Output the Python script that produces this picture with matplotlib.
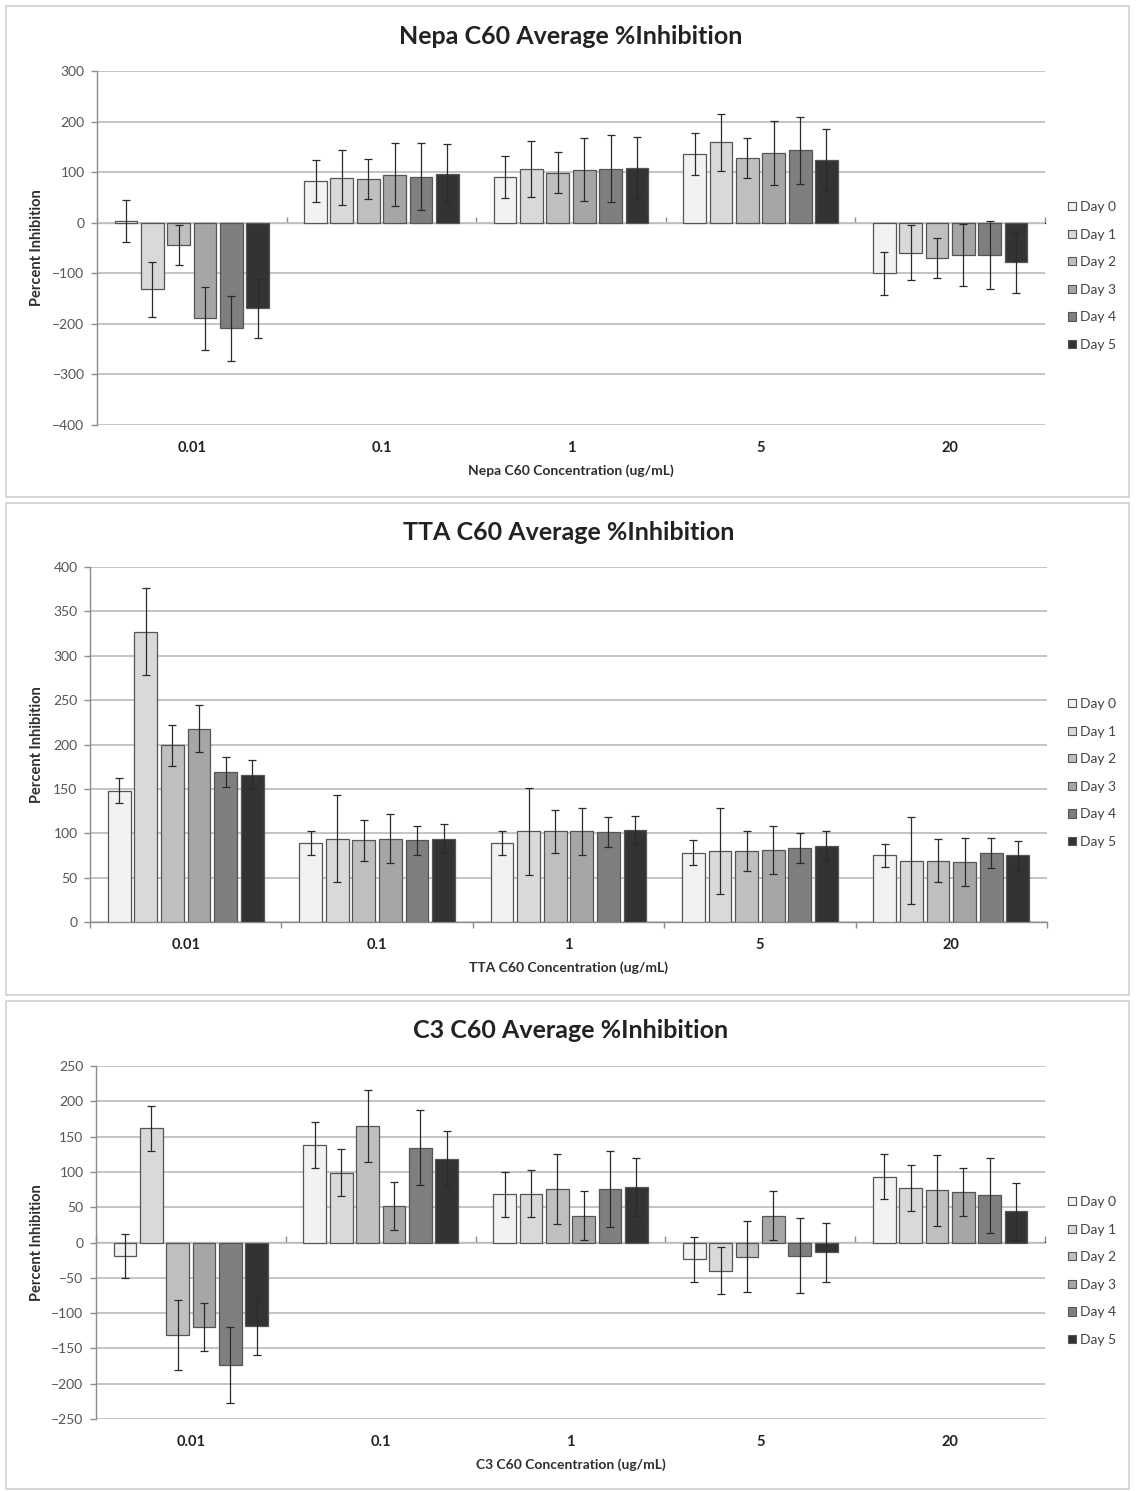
import matplotlib
matplotlib.use("Agg")
import matplotlib.pyplot as plt
from matplotlib.patches import Rectangle, Patch
import numpy as np

plt.rcParams['font.family'] = ['Lato', 'DejaVu Sans']

concentrations = ["0.01", "0.1", "1", "5", "20"]
days = ["Day 0", "Day 1", "Day 2", "Day 3", "Day 4", "Day 5"]
day_colors = ["#f2f2f2", "#d9d9d9", "#bfbfbf", "#a6a6a6", "#7f7f7f", "#333333"]

# Nepa C60 (one list per day, values across concentrations)
nepa_day0 = [3, 82, 90, 136, -100]
nepa_day1 = [-132, 89, 106, 159, -59]
nepa_day2 = [-44, 86, 99, 128, -70]
nepa_day3 = [-189, 95, 105, 138, -64]
nepa_day4 = [-209, 91, 107, 143, -64]
nepa_day5 = [-169, 97, 109, 125, -78]
nepa_err0 = [42, 42, 42, 42, 43]
nepa_err1 = [54, 54, 55, 56, 55]
nepa_err2 = [40, 40, 40, 40, 40]
nepa_err3 = [62, 62, 63, 63, 62]
nepa_err4 = [65, 66, 66, 66, 67]
nepa_err5 = [58, 59, 61, 60, 60]

# TTA C60
tta_day0 = [148, 89, 89, 78, 75]
tta_day1 = [327, 94, 102, 80, 69]
tta_day2 = [199, 92, 102, 80, 69]
tta_day3 = [218, 94, 102, 81, 68]
tta_day4 = [169, 92, 101, 83, 78]
tta_day5 = [166, 94, 104, 86, 75]
tta_err0 = [14, 13, 13, 14, 13]
tta_err1 = [49, 49, 49, 48, 49]
tta_err2 = [23, 23, 24, 23, 24]
tta_err3 = [27, 28, 27, 27, 27]
tta_err4 = [17, 16, 17, 17, 17]
tta_err5 = [16, 16, 16, 16, 16]

# C3 C60
c3_day0 = [-19, 138, 68, -24, 93]
c3_day1 = [162, 99, 69, -40, 77]
c3_day2 = [-131, 165, 76, -20, 74]
c3_day3 = [-120, 51, 38, 38, 72]
c3_day4 = [-173, 134, 76, -19, 67]
c3_day5 = [-118, 118, 78, -14, 44]
c3_err0 = [31, 32, 32, 32, 32]
c3_err1 = [32, 33, 33, 33, 33]
c3_err2 = [50, 51, 50, 50, 50]
c3_err3 = [34, 34, 35, 35, 34]
c3_err4 = [54, 53, 54, 53, 53]
c3_err5 = [41, 40, 41, 42, 40]

W, H = 1136, 1491
fig = plt.figure(figsize=(W / 100, H / 100), dpi=100)
fig.patch.set_facecolor("white")

def fx(px):
    return px / W

def fy(py):
    return 1 - py / H

panels = [
    dict(name="Nepa", means=[nepa_day0, nepa_day1, nepa_day2, nepa_day3, nepa_day4, nepa_day5],
         errs=[nepa_err0, nepa_err1, nepa_err2, nepa_err3, nepa_err4, nepa_err5],
         ylim=(-400, 300), step=100, frame=(6, 497), plot=(97, 1045, 71, 425),
         title_y=36, xlabel_y=471, legend_y=276),
    dict(name="TTA", means=[tta_day0, tta_day1, tta_day2, tta_day3, tta_day4, tta_day5],
         errs=[tta_err0, tta_err1, tta_err2, tta_err3, tta_err4, tta_err5],
         ylim=(0, 400), step=50, frame=(503, 995), plot=(90, 1047, 567, 922),
         title_y=533, xlabel_y=968, legend_y=773),
    dict(name="C3", means=[c3_day0, c3_day1, c3_day2, c3_day3, c3_day4, c3_day5],
         errs=[c3_err0, c3_err1, c3_err2, c3_err3, c3_err4, c3_err5],
         ylim=(-250, 250), step=50, frame=(1001, 1489), plot=(96, 1045, 1066, 1419),
         title_y=1031, xlabel_y=1465, legend_y=1271),
]

x = np.arange(len(concentrations))
slot = 0.139
bw = 0.12
grid_c = "#c4c4c4"
axis_c = "#8c8c8c"

for p in panels:
    ft, fb = p["frame"]
    fig.add_artist(Rectangle((fx(6), fy(fb)), fx(1129) - fx(6), fy(ft) - fy(fb),
                             transform=fig.transFigure, fill=False,
                             edgecolor="#d0d0d0", linewidth=1.2))
    l, r, t, b = p["plot"]
    ax = fig.add_axes([fx(l), fy(b), fx(r) - fx(l), fy(t) - fy(b)])
    ax.set_facecolor("none")
    for i, (m, e) in enumerate(zip(p["means"], p["errs"])):
        xs = x + (i - 2.5) * slot
        ax.bar(xs, m, width=bw, color=day_colors[i], edgecolor="#555555",
               linewidth=0.9, label=days[i], zorder=3)
        ax.errorbar(xs, m, yerr=e, fmt="none", ecolor="#2a2a2a", elinewidth=0.9,
                    capsize=2.6, capthick=0.9, zorder=4)
    ymin, ymax = p["ylim"]
    ax.set_ylim(ymin, ymax)
    ax.set_xlim(-0.5, len(concentrations) - 0.5)
    ax.set_yticks(np.arange(ymin, ymax + 1, p["step"]))
    ax.yaxis.grid(True, color=grid_c, linewidth=1.4, zorder=0)
    ax.set_axisbelow(True)
    for s in ["top", "right", "bottom"]:
        ax.spines[s].set_visible(False)
    ax.spines["left"].set_color(axis_c)
    ax.spines["left"].set_linewidth(1.0)
    ax.tick_params(axis="y", length=4, width=1, color=axis_c, pad=5,
                   labelsize=10, labelcolor="#555555")
    ax.set_xticks(x, concentrations)
    ax.tick_params(axis="x", length=0, pad=11.5, labelsize=10.5, labelcolor="#222222")
    for lab in ax.get_xticklabels():
        lab.set_fontweight("bold")
    zero_frac = (0 - ymin) / (ymax - ymin)
    sec = ax.secondary_xaxis(zero_frac)
    sec.set_xticks(np.arange(-0.5, len(concentrations), 1.0))
    sec.set_xticklabels([])
    sec.tick_params(axis="x", direction="out", length=4, width=1, color=axis_c)
    sec.spines["bottom"].set_color(axis_c)
    sec.spines["bottom"].set_linewidth(1.0)
    cx = fx((l + r) / 2)
    fig.text(cx, fy(p["title_y"]), f"{p['name']} C60 Average %Inhibition",
             ha="center", va="center", fontsize=18, fontweight="bold", color="#222222")
    fig.text(cx, fy(p["xlabel_y"]), f"{p['name']} C60 Concentration (ug/mL)",
             ha="center", va="center", fontsize=10, fontweight="bold", color="#2e2e2e")
    fig.text(fx(37), fy((t + b) / 2), "Percent Inhibition", rotation=90,
             ha="center", va="center", fontsize=10.5, fontweight="bold", color="#2e2e2e")
    handles = [Patch(facecolor=c, edgecolor="#555555", linewidth=0.8) for c in day_colors]
    ax.legend(handles, days, loc="center left", bbox_to_anchor=(fx(1068), fy(p["legend_y"])),
              bbox_transform=fig.transFigure, frameon=False, fontsize=10,
              handlelength=0.55, handleheight=0.55, handletextpad=0.3,
              labelspacing=1.12, borderpad=0, borderaxespad=0, labelcolor="#444444")

fig.savefig("out.png", dpi=100, facecolor="white")
